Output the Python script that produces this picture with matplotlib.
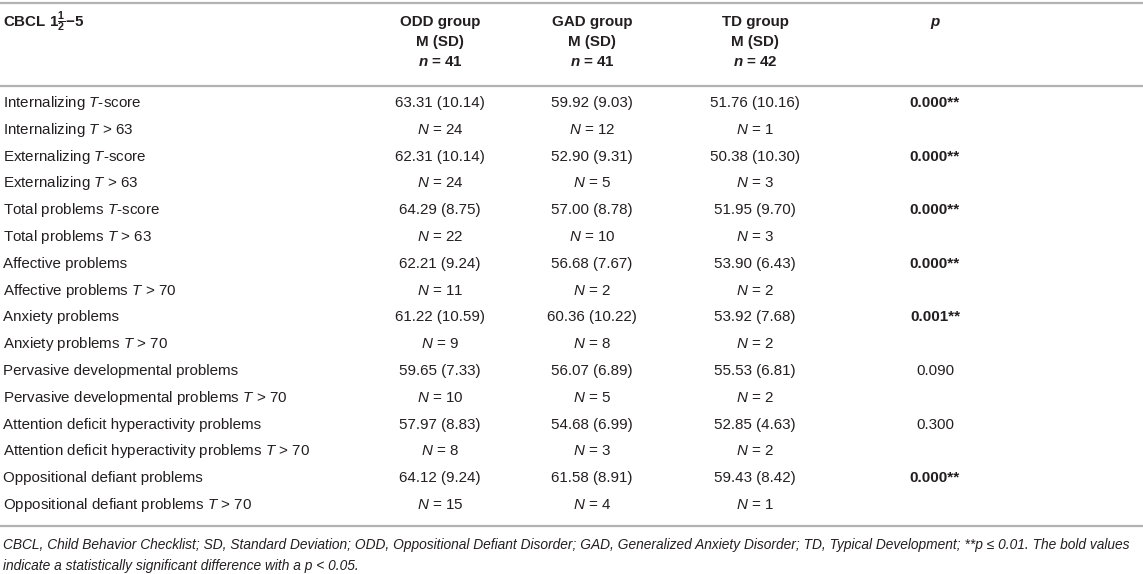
import matplotlib
matplotlib.use("Agg")
import matplotlib.pyplot as plt

plt.rcParams['font.family'] = ['Liberation Sans', 'DejaVu Sans']
plt.rcParams['mathtext.fontset'] = 'custom'
plt.rcParams['mathtext.rm'] = 'Liberation Sans'
plt.rcParams['mathtext.it'] = 'Liberation Sans:italic'
plt.rcParams['mathtext.bf'] = 'Liberation Sans:bold'
plt.rcParams['mathtext.bfit'] = 'Liberation Sans:italic:bold'

# table content
groups = ["ODD group", "GAD group", "TD group"]
group_n = [41, 41, 42]
row_labels = [
    r"Internalizing $T$-score", r"Internalizing $T$ > 63",
    r"Externalizing $T$-score", r"Externalizing $T$ > 63",
    r"Total problems $T$-score", r"Total problems $T$ > 63",
    "Affective problems", r"Affective problems $T$ > 70",
    "Anxiety problems", r"Anxiety problems $T$ > 70",
    "Pervasive developmental problems", r"Pervasive developmental problems $T$ > 70",
    "Attention deficit hyperactivity problems", r"Attention deficit hyperactivity problems $T$ > 70",
    "Oppositional defiant problems", r"Oppositional defiant problems $T$ > 70",
]
odd_vals = ["63.31 (10.14)", 24, "62.31 (10.14)", 24, "64.29 (8.75)", 22, "62.21 (9.24)", 11,
            "61.22 (10.59)", 9, "59.65 (7.33)", 10, "57.97 (8.83)", 8, "64.12 (9.24)", 15]
gad_vals = ["59.92 (9.03)", 12, "52.90 (9.31)", 5, "57.00 (8.78)", 10, "56.68 (7.67)", 2,
            "60.36 (10.22)", 8, "56.07 (6.89)", 5, "54.68 (6.99)", 3, "61.58 (8.91)", 4]
td_vals = ["51.76 (10.16)", 1, "50.38 (10.30)", 3, "51.95 (9.70)", 3, "53.90 (6.43)", 2,
           "53.92 (7.68)", 2, "55.53 (6.81)", 2, "52.85 (4.63)", 2, "59.43 (8.42)", 1]
p_vals = ["0.000**", "", "0.000**", "", "0.000**", "", "0.000**", "",
          "0.001**", "", "0.090", "", "0.300", "", "0.000**", ""]
p_bold = [True, False, True, False, True, False, True, False,
          True, False, False, False, False, False, True, False]

footnote = [
    "CBCL, Child Behavior Checklist; SD, Standard Deviation; ODD, Oppositional Defiant Disorder; "
    "GAD, Generalized Anxiety Disorder; TD, Typical Development; **p \u2264 0.01. The bold values",
    "indicate a statistically significant difference with a p < 0.05.",
]

W, H = 1143, 574
fig = plt.figure(figsize=(W / 100, H / 100), dpi=100, facecolor='white')
txt_color = '#231f20'
line_color = '#b3b3b3'


def px(x, y):
    return x / W, 1 - y / H


def put(x, y, s, ha='left', **kw):
    kw.setdefault('fontsize', 10.9)
    fig.text(*px(x, y), s, ha=ha, va='center', color=txt_color, **kw)


def hline(y):
    fig.add_artist(plt.Line2D([0, 1], [1 - y / H] * 2, color=line_color, lw=1.6))


hline(2.5)
hline(86)
hline(526)

col_x = [440, 592, 755]
p_x = 935

# header
put(3, 22, r"CBCL 1$\mathbf{\frac{1}{2}}$" + "\u22125", fontweight='bold')
for cx, g, n in zip(col_x, groups, group_n):
    put(cx, 22, g, ha='center', fontweight='bold')
    put(cx, 42, "M (SD)", ha='center', fontweight='bold')
    put(cx, 62, r"$\mathbfit{n}$ = %d" % n, ha='center', fontweight='bold')
put(p_x, 22, "p", ha='center', fontweight='bold', style='italic')

# body
y0, dy = 103, 26.8
for i, lab in enumerate(row_labels):
    y = y0 + i * dy
    put(3, y, lab)
    for cx, vals in zip(col_x, [odd_vals, gad_vals, td_vals]):
        v = vals[i]
        s = v if isinstance(v, str) else r"$N$ = %d" % v
        put(cx, y, s, ha='center')
    if p_vals[i]:
        put(p_x, y, p_vals[i], ha='center', fontweight='bold' if p_bold[i] else 'normal')

put(3, 545, footnote[0], style='italic', fontsize=9.9)
put(3, 566, footnote[1], style='italic', fontsize=9.9)

fig.savefig("out.png", dpi=100, facecolor='white')
